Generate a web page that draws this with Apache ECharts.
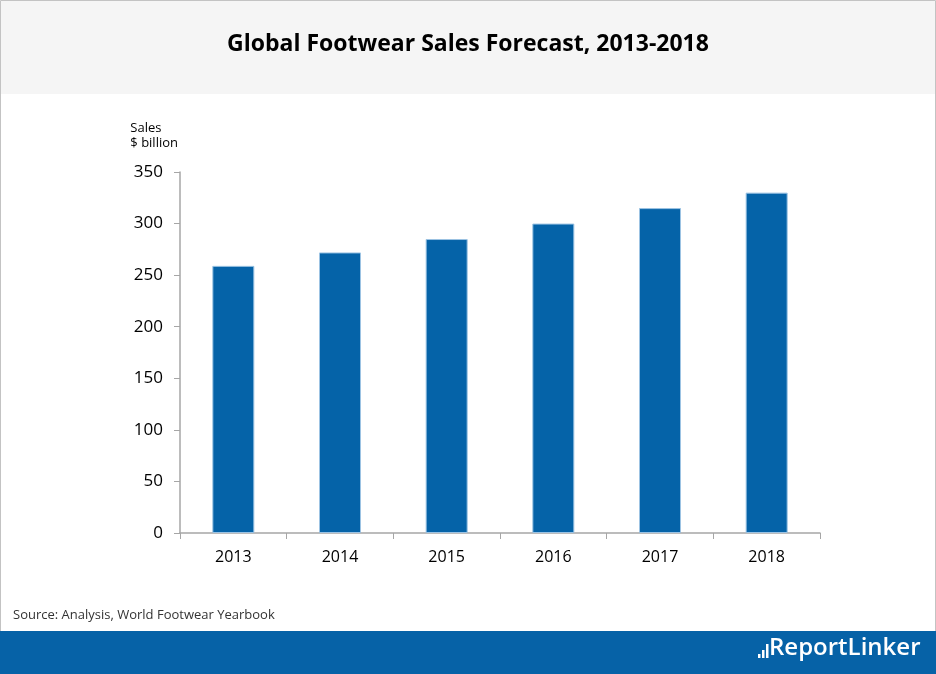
<!DOCTYPE html>
<html><head><meta charset="utf-8">
<script src="https://cdn.jsdelivr.net/npm/echarts@6/dist/echarts.min.js"></script>
<style>html,body{margin:0;padding:0;background:#fff}#c{width:936px;height:674px}</style>
</head><body><div id="c"></div>
<script>
const categories = ['2013','2014','2015','2016','2017','2018'];
const sales = [259, 272, 285, 300, 315, 330];
const yTicks = [0, 50, 100, 150, 200, 250, 300, 350];

const chart = echarts.init(document.getElementById('c'), null, {renderer:'canvas'});
const axisColor = '#a6a6a6';
chart.setOption({
  animation:false,
  backgroundColor:'#ffffff',
  graphic:[
    {type:'rect', shape:{x:0.5,y:0.5,width:935,height:673}, style:{fill:'#ffffff',stroke:'#c3c3c3',lineWidth:1}, z:-10},
    {type:'rect', shape:{x:1,y:1,width:934,height:93}, style:{fill:'#f5f5f5'}, z:-9},
    {type:'text', left:'center', top:33, style:{text:'Global Footwear Sales Forecast, 2013-2018', font:'bold 23px "Open Sans"', fill:'#000'}},
    {type:'text', right:936-178, top:121, style:{text:'Sales\n$ billion', font:'13px "Open Sans"', fill:'#000', align:'right', lineHeight:15}},
    {type:'text', left:13, top:609, style:{text:'Source: Analysis, World Footwear Yearbook', font:'13px "Open Sans"', fill:'#333'}},
    {type:'rect', shape:{x:0,y:631,width:936,height:43}, style:{fill:'#0662a7'}},
    {type:'rect', shape:{x:758,y:654,width:2.5,height:4}, style:{fill:'#fff'}},
    {type:'rect', shape:{x:762,y:650,width:2.5,height:8}, style:{fill:'#fff'}},
    {type:'rect', shape:{x:766,y:644,width:2.5,height:14}, style:{fill:'#fff'}},
    {type:'text', left:769, top:636, style:{text:'ReportLinker', font:'600 24px "Open Sans"', fill:'#fff'}}
  ],
  grid:{left:180, right:116, top:172, bottom:141, containLabel:false},
  xAxis:{
    type:'category', data:categories,
    axisLine:{lineStyle:{color:axisColor, width:1.5}},
    axisTick:{show:true, length:6, lineStyle:{color:axisColor}, alignWithLabel:false},
    axisLabel:{color:'#000', fontSize:16, fontFamily:'"Open Sans"', margin:16}
  },
  yAxis:{
    type:'value', min:0, max:350, interval:50,
    axisLine:{show:true, lineStyle:{color:axisColor, width:1.5}},
    axisTick:{show:true, length:6, lineStyle:{color:axisColor}},
    splitLine:{show:false},
    axisLabel:{color:'#000', fontSize:17, fontFamily:'"Open Sans"', margin:17,
      customValues: yTicks}
  },
  series:[{
    type:'bar', data:sales, barWidth:42,
    itemStyle:{color:'#0563a8', borderColor:'#9cc3e3', borderWidth:1}
  }]
});
</script></body></html>
